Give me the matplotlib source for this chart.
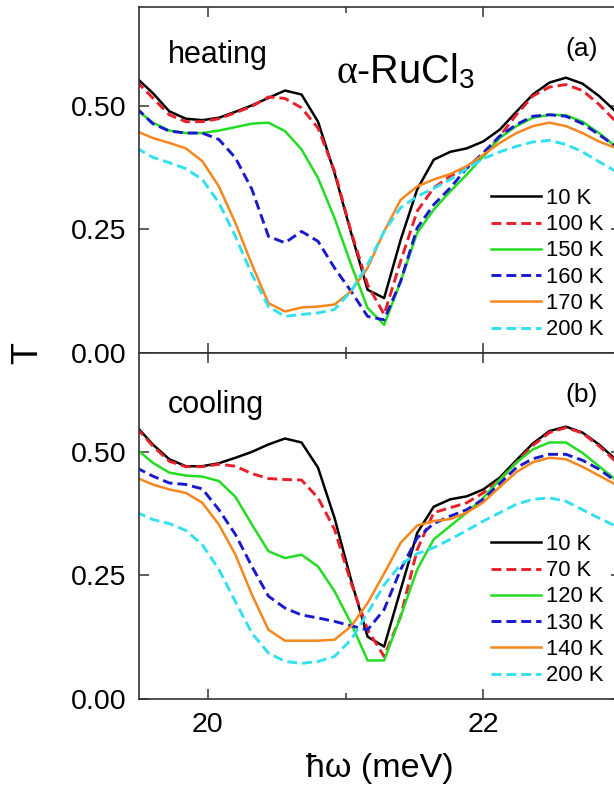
import numpy as np
import matplotlib
matplotlib.use("Agg")
import matplotlib.pyplot as plt
from matplotlib.ticker import MultipleLocator

plt.rcParams['font.family'] = ['Liberation Sans', 'DejaVu Sans']
plt.rcParams['mathtext.fontset'] = 'custom'
plt.rcParams['mathtext.rm'] = 'Liberation Sans'
plt.rcParams['mathtext.it'] = 'Liberation Serif'

# photon energy grid (meV)
energy = [19.48, 19.60, 19.72, 19.84, 19.96, 20.08, 20.20, 20.32, 20.44, 20.56,
          20.68, 20.80, 20.92, 21.04, 21.16, 21.28, 21.40, 21.52, 21.64, 21.76,
          21.88, 22.00, 22.12, 22.24, 22.36, 22.48, 22.60, 22.72, 22.84, 22.96, 23.08]

# (a) heating
heat_labels = ["10 K", "100 K", "150 K", "160 K", "170 K", "200 K"]
heat_10 = [0.557, 0.526, 0.489, 0.474, 0.471, 0.476, 0.488, 0.501, 0.516, 0.531,
           0.523, 0.468, 0.364, 0.243, 0.128, 0.111, 0.229, 0.331, 0.391, 0.407,
           0.414, 0.428, 0.452, 0.488, 0.523, 0.547, 0.557, 0.545, 0.520, 0.489, 0.459]
heat_100 = [0.550, 0.516, 0.482, 0.468, 0.468, 0.474, 0.486, 0.499, 0.518, 0.515,
            0.496, 0.455, 0.368, 0.246, 0.138, 0.078, 0.186, 0.287, 0.334, 0.358,
            0.374, 0.398, 0.439, 0.482, 0.520, 0.538, 0.543, 0.531, 0.503, 0.469, 0.439]
heat_150 = [0.493, 0.466, 0.450, 0.445, 0.445, 0.450, 0.457, 0.464, 0.466, 0.449,
            0.412, 0.354, 0.273, 0.179, 0.091, 0.057, 0.145, 0.243, 0.290, 0.327,
            0.361, 0.398, 0.435, 0.459, 0.476, 0.482, 0.481, 0.468, 0.445, 0.418, 0.395]
heat_160 = [0.496, 0.464, 0.449, 0.445, 0.445, 0.432, 0.395, 0.331, 0.236, 0.223,
            0.246, 0.226, 0.172, 0.125, 0.074, 0.067, 0.145, 0.253, 0.300, 0.334,
            0.374, 0.405, 0.439, 0.462, 0.479, 0.482, 0.479, 0.464, 0.442, 0.418, 0.395]
heat_170 = [0.449, 0.435, 0.425, 0.414, 0.388, 0.337, 0.263, 0.179, 0.101, 0.084,
            0.092, 0.094, 0.098, 0.125, 0.172, 0.246, 0.310, 0.337, 0.351, 0.362,
            0.378, 0.401, 0.425, 0.445, 0.459, 0.466, 0.459, 0.445, 0.428, 0.415, 0.401]
heat_200 = [0.415, 0.396, 0.385, 0.373, 0.351, 0.304, 0.236, 0.159, 0.094, 0.074,
            0.078, 0.081, 0.088, 0.125, 0.179, 0.246, 0.294, 0.317, 0.333, 0.351,
            0.373, 0.393, 0.407, 0.418, 0.427, 0.430, 0.422, 0.407, 0.387, 0.368, 0.351]

# (b) cooling
cool_labels = ["10 K", "70 K", "120 K", "130 K", "140 K", "200 K"]
cool_10 = [0.552, 0.515, 0.485, 0.471, 0.471, 0.477, 0.488, 0.500, 0.515, 0.527,
           0.519, 0.468, 0.366, 0.241, 0.126, 0.106, 0.221, 0.336, 0.389, 0.404,
           0.410, 0.424, 0.448, 0.483, 0.517, 0.542, 0.551, 0.539, 0.515, 0.485, 0.458]
cool_70 = [0.549, 0.512, 0.481, 0.470, 0.470, 0.475, 0.471, 0.456, 0.446, 0.444,
           0.443, 0.407, 0.343, 0.235, 0.140, 0.086, 0.167, 0.302, 0.377, 0.387,
           0.397, 0.417, 0.444, 0.479, 0.513, 0.539, 0.549, 0.538, 0.512, 0.481, 0.454]
cool_120 = [0.506, 0.478, 0.458, 0.452, 0.450, 0.441, 0.409, 0.353, 0.299, 0.285,
            0.292, 0.268, 0.218, 0.153, 0.078, 0.078, 0.167, 0.262, 0.323, 0.350,
            0.377, 0.407, 0.444, 0.478, 0.505, 0.519, 0.519, 0.498, 0.471, 0.444, 0.421]
cool_130 = [0.468, 0.451, 0.437, 0.434, 0.425, 0.383, 0.333, 0.268, 0.208, 0.184,
            0.170, 0.164, 0.157, 0.148, 0.140, 0.181, 0.262, 0.326, 0.355, 0.370,
            0.383, 0.404, 0.436, 0.468, 0.486, 0.495, 0.495, 0.483, 0.465, 0.441, 0.421]
cool_140 = [0.448, 0.434, 0.424, 0.417, 0.397, 0.353, 0.292, 0.211, 0.140, 0.118,
            0.118, 0.118, 0.120, 0.147, 0.194, 0.254, 0.316, 0.351, 0.360, 0.364,
            0.377, 0.398, 0.429, 0.459, 0.479, 0.488, 0.485, 0.470, 0.452, 0.434, 0.417]
cool_200 = [0.378, 0.363, 0.355, 0.341, 0.312, 0.262, 0.197, 0.133, 0.093, 0.076,
            0.072, 0.076, 0.086, 0.120, 0.174, 0.231, 0.272, 0.294, 0.306, 0.323,
            0.341, 0.360, 0.377, 0.394, 0.404, 0.407, 0.400, 0.383, 0.366, 0.350, 0.333]

colors = ["#000000", "#e8202a", "#22dd22", "#1a1acc", "#f5871f", "#33e0f0"]
styles = ["-", "--", "-", "--", "-", "--"]

fig = plt.figure(figsize=(6.14, 7.90), dpi=100)
W, H = 614.0, 790.0
left, right = 139 / W, 621 / W
ax_top = fig.add_axes([left, 1 - 353 / H, right - left, 346 / H])
ax_bot = fig.add_axes([left, 1 - 699 / H, right - left, 346 / H], sharex=ax_top)


def draw_panel(ax, series, labels):
	for y, lab, c, ls in zip(series, labels, colors, styles):
		if ls == "--":
			ax.plot(energy, y, ls, color=c, lw=2.1, dashes=(3.4, 1.7), label=lab)
		else:
			ax.plot(energy, y, ls, color=c, lw=1.8, label=lab)
	ax.set_xlim(19.5, 23.0)
	ax.set_ylim(0, 0.70)
	ax.set_yticks([0, 0.25, 0.5])
	ax.set_yticklabels(["0.00", "0.25", "0.50"])
	ax.xaxis.set_major_locator(MultipleLocator(2))
	ax.xaxis.set_minor_locator(MultipleLocator(1))
	ax.tick_params(which="both", direction="in", top=True, right=True,
		labelsize=20.5, width=1.1, color="#333333", pad=9)
	ax.tick_params(which="major", length=7.5)
	ax.tick_params(which="minor", length=4.5)
	for s in ax.spines.values():
		s.set_linewidth(1.2)
		s.set_color("#333333")
	ax.legend(loc="upper left", bbox_to_anchor=(0.730, 0.477), frameon=False,
		fontsize=15.8, handlelength=2.3, handletextpad=0.22, labelspacing=0.24,
		borderpad=0, borderaxespad=0)


draw_panel(ax_top, [heat_10, heat_100, heat_150, heat_160, heat_170, heat_200], heat_labels)
draw_panel(ax_bot, [cool_10, cool_70, cool_120, cool_130, cool_140, cool_200], cool_labels)
ax_top.tick_params(labelbottom=False)

ax_top.text(0.060, 0.838, "heating", transform=ax_top.transAxes, fontsize=22, va="baseline")
ax_bot.text(0.060, 0.827, "cooling", transform=ax_bot.transAxes, fontsize=22, va="baseline")
ax_top.text(0.952, 0.879, "(a)", transform=ax_top.transAxes, fontsize=19, ha="right", va="center")
ax_bot.text(0.952, 0.879, "(b)", transform=ax_bot.transAxes, fontsize=19, ha="right", va="center")
ax_top.text(0.408, 0.780, r"$\alpha$-RuCl$_3$", transform=ax_top.transAxes, fontsize=28.5, va="baseline")

fig.text(28 / W, 1 - 353 / H, "T", rotation=90, fontsize=26, ha="center", va="center")
fig.text(380 / W, 1 - 769 / H, "ħω (meV)", fontsize=24.5, ha="center", va="center")

fig.savefig("out.png", dpi=100)
